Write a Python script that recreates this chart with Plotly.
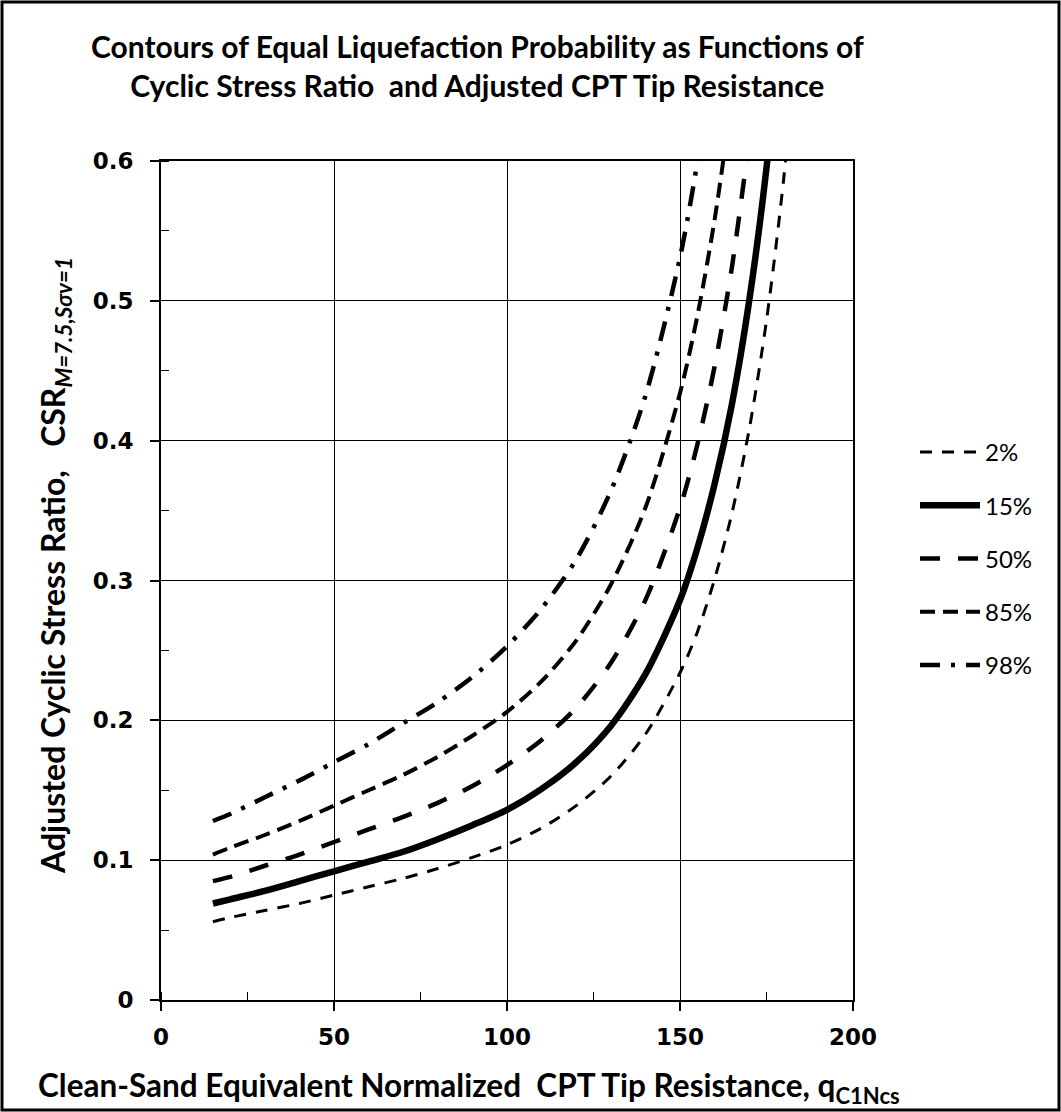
import plotly.graph_objects as go

# ---- data ----
q_2 = [15, 20, 30, 40, 50, 60, 70, 80, 90, 100, 110, 120, 130, 140, 150, 155, 160, 165, 170, 175, 180, 185]
csr_2 = [0.056, 0.059, 0.064, 0.069, 0.075, 0.081, 0.087, 0.094, 0.102, 0.111, 0.123, 0.139, 0.160, 0.190,
         0.234, 0.263, 0.301, 0.348, 0.408, 0.486, 0.588, 0.725]

q_15 = [15, 20, 30, 40, 50, 60, 70, 80, 90, 100, 110, 120, 130, 140, 150, 155, 160, 165, 170, 175, 180]
csr_15 = [0.069, 0.072, 0.078, 0.085, 0.092, 0.099, 0.106, 0.115, 0.125, 0.136, 0.151, 0.170, 0.196, 0.233,
          0.286, 0.323, 0.369, 0.426, 0.500, 0.595, 0.721]

q_50 = [15, 20, 30, 40, 50, 60, 70, 80, 90, 100, 110, 120, 130, 140, 150, 155, 160, 165, 170]
csr_50 = [0.085, 0.088, 0.096, 0.104, 0.113, 0.122, 0.131, 0.141, 0.153, 0.168, 0.186, 0.209, 0.241, 0.286,
          0.352, 0.397, 0.453, 0.524, 0.615]

q_85 = [15, 20, 30, 40, 50, 60, 70, 80, 90, 100, 110, 120, 130, 140, 150, 155, 160, 165]
csr_85 = [0.104, 0.109, 0.118, 0.128, 0.139, 0.150, 0.161, 0.174, 0.189, 0.206, 0.228, 0.257, 0.297, 0.352,
          0.434, 0.489, 0.558, 0.645]

q_98 = [15, 20, 30, 40, 50, 60, 70, 80, 90, 100, 110, 120, 130, 140, 150, 155, 160]
csr_98 = [0.128, 0.133, 0.145, 0.157, 0.170, 0.183, 0.198, 0.213, 0.231, 0.253, 0.280, 0.315, 0.364, 0.432,
          0.531, 0.599, 0.684]

series_names = ["2%", "15%", "50%", "85%", "98%"]
x_ticks = [0, 50, 100, 150, 200]
y_ticks = [0, 0.1, 0.2, 0.3, 0.4, 0.5, 0.6]
y_tick_text = ["0", "0.1", "0.2", "0.3", "0.4", "0.5", "0.6"]

# ---- styles ----
styles = [
    dict(width=3, dash="12px,10px"),
    dict(width=6.5, dash="solid"),
    dict(width=4.5, dash="20px,18px"),
    dict(width=4, dash="15px,8px"),
    dict(width=4.5, dash="20px,11px,4px,11px"),
]
series = [(q_2, csr_2), (q_15, csr_15), (q_50, csr_50), (q_85, csr_85), (q_98, csr_98)]

fig = go.Figure()
for name, (xs, ys), st in zip(series_names, series, styles):
    fig.add_trace(go.Scatter(
        x=xs, y=ys, mode="lines", name=name, legendgroup=name,
        line=dict(color="black", width=st["width"], dash=st["dash"], shape="spline", smoothing=0.8),
        hoverinfo="skip",
    ))

W, H = 1061, 1112
L, R, T, B = 161, 208, 161, 112
pw, ph = W - L - R, H - T - B

def px_x(p):
    return (p - L) / pw

def px_y(p):
    return (H - B - p) / ph

tick_font = dict(family="DejaVu Sans", size=23, color="black", weight="bold")
title_font = "Lato, Open Sans, sans-serif"

fig.update_layout(
    width=W, height=H,
    margin=dict(l=L, r=R, t=T, b=B),
    paper_bgcolor="white", plot_bgcolor="white",
    showlegend=True,
    legend=dict(
        x=px_x(915), y=px_y(430), xanchor="left", yanchor="top",
        font=dict(family=title_font, size=24, color="black"),
        tracegroupgap=19, bgcolor="rgba(0,0,0,0)",
        itemwidth=60,
    ),
    xaxis=dict(
        range=[0, 200], tickvals=x_ticks, ticktext=[str(v) for v in x_ticks],
        showgrid=True, gridcolor="black", gridwidth=1.3,
        showline=True, linecolor="black", linewidth=2, mirror=True,
        ticks="outside", ticklen=9, tickcolor="black", tickwidth=1.5,
        tickfont=tick_font, ticklabelstandoff=6,
        minor=dict(dtick=25, ticks="inside", ticklen=8, tickcolor="black", tickwidth=1.3, showgrid=False),
        zeroline=False,
    ),
    yaxis=dict(
        range=[0, 0.6], tickvals=y_ticks, ticktext=y_tick_text,
        showgrid=True, gridcolor="black", gridwidth=1.3,
        showline=True, linecolor="black", linewidth=2, mirror=True,
        ticks="outside", ticklen=9, tickcolor="black", tickwidth=1.5,
        tickfont=tick_font, ticklabelstandoff=12,
        minor=dict(dtick=0.05, ticks="inside", ticklen=8, tickcolor="black", tickwidth=1.3, showgrid=False),
        zeroline=False,
    ),
)

# titles
fig.add_annotation(
    x=px_x(477), y=px_y(66), xref="paper", yref="paper", xanchor="center", yanchor="middle",
    text="Contours of Equal Liquefaction Probability as Functions of<br>Cyclic Stress Ratio  and Adjusted CPT Tip Resistance",
    showarrow=False, align="center",
    font=dict(family=title_font, size=30, color="black", weight="bold"),
)
fig.add_annotation(
    x=px_x(469), y=px_y(1087), xref="paper", yref="paper", xanchor="center", yanchor="middle",
    text="Clean-Sand Equivalent Normalized  CPT Tip Resistance, q<sub>C1Ncs</sub>",
    showarrow=False,
    font=dict(family=title_font, size=31.5, color="black", weight="bold"),
)
fig.add_annotation(
    x=px_x(55), y=px_y(566), xref="paper", yref="paper", xanchor="center", yanchor="middle",
    text="Adjusted Cyclic Stress Ratio,   CSR<sub><i>M=7.5,Sσv=1</i></sub>",
    showarrow=False, textangle=-90,
    font=dict(family=title_font, size=32, color="black", weight="bold"),
)

# outer frame around the whole picture
fig.add_shape(type="rect", xref="paper", yref="paper",
              x0=px_x(2), x1=px_x(W - 2), y0=px_y(H - 2), y1=px_y(2),
              line=dict(color="black", width=3), fillcolor="rgba(0,0,0,0)", layer="above")

fig.write_html("out.html")
